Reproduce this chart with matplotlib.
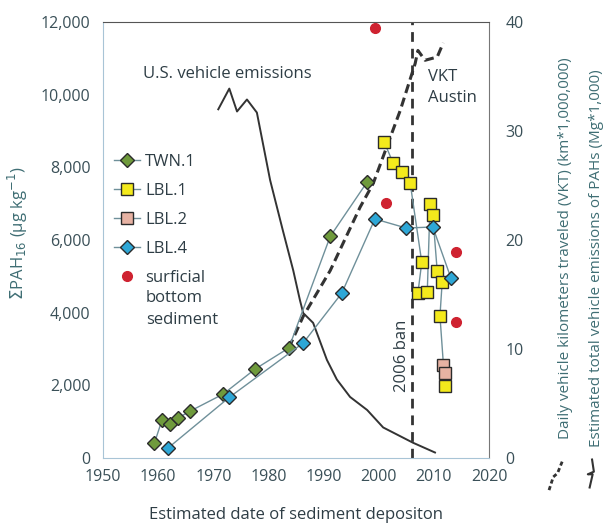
import numpy as np
import matplotlib.pyplot as plt
from matplotlib.lines import Line2D

plt.rcParams['font.family'] = ['Open Sans', 'DejaVu Sans']

# ------  data  -----------------------------------------------------------
twn1_year = [1959.3, 1960.7, 1962.2, 1963.6, 1965.8, 1971.8, 1977.6, 1983.7, 1991.2, 1997.9]
twn1_pah = [400, 1045, 935, 1100, 1290, 1760, 2450, 3030, 6100, 7600]

lbl1_year = [2001.0, 2002.6, 2004.2, 2005.7, 2007.8, 2007.1, 2008.8, 2009.3, 2009.8,
             2010.6, 2011.5, 2011.1, 2012.0]
lbl1_pah = [8700, 8120, 7870, 7570, 5390, 4540, 4570, 6990, 6690,
            5150, 4840, 3910, 1980]

lbl2_year = [2011.7, 2012.1]
lbl2_pah = [2550, 2330]

lbl4_year = [1961.8, 1972.9, 1986.3, 1993.3, 1999.3, 2005.0, 2009.8, 2013.1]
lbl4_pah = [275, 1670, 3165, 4540, 6580, 6330, 6360, 4950]

surf_year = [1999.3, 2001.3, 2014.0, 2014.0]
surf_pah = [11830, 7020, 5670, 3740]

# right axis series
vkt_year = [1983.7, 1986.3, 1991.2, 1996.6, 1999.0, 2003.9, 2006.6, 2007.1, 2008.4, 2010.6, 2011.7]
vkt_val = [10.1, 13.0, 17.2, 23.0, 25.2, 31.9, 36.2, 37.4, 36.5, 36.8, 38.1]

emis_year = [1970.9, 1972.9, 1974.3, 1976.1, 1977.9, 1980.3, 1982.6, 1984.5, 1985.7,
             1986.3, 1988.1, 1990.6, 1992.4, 1994.8, 1997.9, 2000.8, 2006.2, 2010.2]
emis_val = [32.0, 33.9, 31.8, 32.9, 31.7, 25.5, 20.9, 17.2, 14.5,
            13.3, 12.4, 9.0, 7.2, 5.6, 4.4, 2.8, 1.4, 0.5]

ban_year = 2006

# ------  colours  ---------------------------------------------------------
tick_col = '#3a5058'
lab_col = '#3f6e74'
txt_col = '#2e3d45'
conn = '#6f909a'
edge = '#2b2b2b'

fig = plt.figure(figsize=(6.06, 5.27), dpi=100)
ax = fig.add_axes([0.170, 0.131, 0.637, 0.827])
ax2 = ax.twinx()
ax.set_zorder(ax2.get_zorder() + 1)
ax.patch.set_visible(False)

# ------  right axis lines  ------------------------------------------------
ax2.plot(emis_year, emis_val, color='#333333', lw=1.4)
ax2.plot(vkt_year, vkt_val, color='#333333', lw=2.2, ls=(0, (3, 1.6)))
ax2.set_ylim(0, 40)
ax2.set_yticks([0, 10, 20, 30, 40])

# ------  sediment cores  --------------------------------------------------
ax.plot(twn1_year, twn1_pah, color=conn, lw=1, marker='D', ms=7.5,
        mfc='#6f9a3c', mec=edge, mew=1, label='TWN.1')
ax.plot(lbl1_year, lbl1_pah, color=conn, lw=1, marker='s', ms=8.5,
        mfc='#f4ea1c', mec=edge, mew=1, label='LBL.1')
ax.plot(lbl2_year, lbl2_pah, color=conn, lw=1, marker='s', ms=8.5,
        mfc='#e7b2a3', mec=edge, mew=1, label='LBL.2')
ax.plot(lbl4_year, lbl4_pah, color=conn, lw=1, marker='D', ms=7.5,
        mfc='#2ea7d6', mec=edge, mew=1, label='LBL.4')
ax.plot(surf_year, surf_pah, ls='none', marker='o', ms=7,
        mfc='#cf2230', mec='#cf2230', label='surficial')

ax.axvline(ban_year, color='#333333', lw=2, ls=(0, (3.5, 2.5)), zorder=1)

ax.set_xlim(1950, 2020)
ax.set_ylim(0, 12000)
ax.set_xticks(range(1950, 2021, 10))
ax.set_yticks(range(0, 12001, 2000))
ax.set_yticklabels(['{:,}'.format(v) for v in range(0, 12001, 2000)])

for a in (ax, ax2):
    a.tick_params(length=0, labelsize=11.5, colors=tick_col)
ax.tick_params(axis='y', pad=9)
ax.tick_params(axis='x', pad=8)
ax2.tick_params(axis='y', pad=12)

ax.spines['left'].set_color('#a8c4d6')
ax.spines['bottom'].set_color('#a8c4d6')
ax.spines['top'].set_color('#555555')
ax.spines['right'].set_color('#777777')
for s in ax2.spines.values():
    s.set_visible(False)

ax.set_xlabel('Estimated date of sediment depositon', fontsize=12,
              color=txt_col)
ax.xaxis.set_label_coords(0.5, -0.112)
ax.set_ylabel(r'$\Sigma$PAH$_{16}$ (µg kg$^{-1}$)', fontsize=12,
              color=lab_col)
ax.yaxis.set_label_coords(-0.19, 0.515)

# ------  annotations  -----------------------------------------------------
ax.text(1972.5, 10570, 'U.S. vehicle emissions', ha='center', va='center',
        fontsize=12, color=txt_col)
ax.text(2009.0, 10200, 'VKT\nAustin', ha='left', va='center',
        fontsize=12, color=txt_col, linespacing=1.45)
ax.text(2004.3, 2800, '2006 ban', ha='center', va='center', rotation=90,
        fontsize=12, color=txt_col)

leg = ax.legend(loc='upper left', bbox_to_anchor=(0.01, 0.713), frameon=False,
                fontsize=12, handlelength=1.6, handletextpad=0.3,
                labelspacing=0.78, borderaxespad=0)
for t in leg.get_texts():
    t.set_color(txt_col)
ax.text(0.111, 0.385, 'bottom\nsediment', transform=ax.transAxes,
        ha='left', va='top', fontsize=12, color=txt_col, linespacing=1.5)

# right-hand axis titles with their little line keys
fig.text(0.933, 0.53, 'Daily vehicle kilometers traveled (VKT) (km*1,000,000)',
         rotation=90, ha='center', va='center', fontsize=11, color=lab_col)
fig.text(0.985, 0.51, 'Estimated total vehicle emissions of PAHs (Mg*1,000)',
         rotation=90, ha='center', va='center', fontsize=11, color=lab_col)
fig.add_artist(Line2D([0.906, 0.913, 0.920, 0.928], [0.07, 0.095, 0.102, 0.125],
                      transform=fig.transFigure, color='#333333', lw=2,
                      ls=(0, (1.5, 1))))
fig.add_artist(Line2D([0.973, 0.978, 0.970, 0.980, 0.977],
                      [0.075, 0.100, 0.100, 0.105, 0.128],
                      transform=fig.transFigure, color='#333333', lw=1.5))

fig.savefig('out.png', dpi=100)
